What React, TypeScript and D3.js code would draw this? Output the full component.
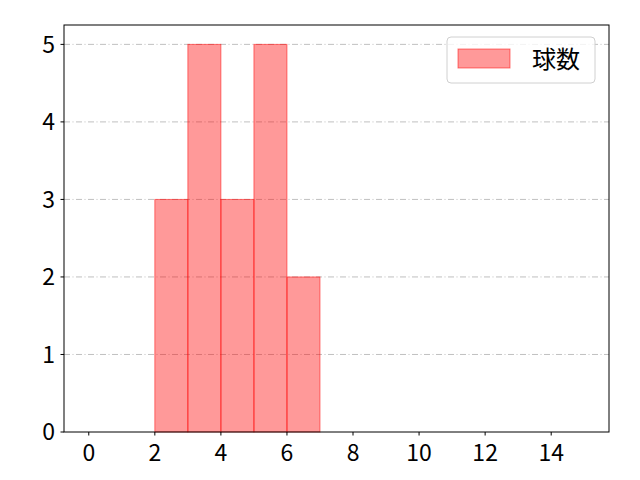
import React from 'react';
import * as d3 from 'd3';

// histogram bins (lower edges) and counts
const binEdges = [0, 1, 2, 3, 4, 5, 6, 7, 8, 9, 10, 11, 12, 13, 14, 15];
const counts = [0, 0, 3, 5, 3, 5, 2, 0, 0, 0, 0, 0, 0, 0, 0];
const xTicks = [0, 2, 4, 6, 8, 10, 12, 14];
const yTicks = [0, 1, 2, 3, 4, 5];
const seriesName = '球数';

const W = 640;
const H = 480;
const m = { left: 64, right: 31, top: 25, bottom: 48 };
const font = "'Noto Sans CJK JP', sans-serif";

const App: React.FC = () => {
  const x = d3.scaleLinear().domain([-0.75, 15.75]).range([m.left, W - m.right]);
  const y = d3.scaleLinear().domain([0, 5.25]).range([H - m.bottom, m.top]);
  const bins = counts.map((c, i) => ({ x0: binEdges[i], x1: binEdges[i + 1], c }));

  return (
    <svg width={W} height={H} style={{ display: 'block', margin: -8 }}>
      <rect width={W} height={H} fill="#fff" />
      {yTicks.slice(1).map(t => (
        <line key={t} x1={m.left} x2={W - m.right} y1={y(t)} y2={y(t)}
          stroke="#b0b0b0" strokeWidth={0.8} strokeDasharray="6,2.5,1,2.5" />
      ))}
      {bins.map((b, i) => (
        <rect key={i} x={x(b.x0)} y={y(b.c)} width={x(b.x1) - x(b.x0)} height={y(0) - y(b.c)}
          fill="red" fillOpacity={0.4} stroke="red" strokeOpacity={b.c > 0 ? 0.5 : 0.15} strokeWidth={1} />
      ))}
      <rect x={m.left} y={m.top} width={W - m.left - m.right} height={H - m.top - m.bottom}
        fill="none" stroke="#000" strokeWidth={1} />
      {xTicks.map(t => (
        <g key={t} transform={`translate(${x(t)},${H - m.bottom})`}>
          <line y2={3.5} stroke="#000" />
          <text y={28.5} textAnchor="middle" fontSize={23} fontFamily={font} fill="#000">{t}</text>
        </g>
      ))}
      {yTicks.map(t => (
        <g key={t} transform={`translate(${m.left},${y(t)})`}>
          <line x2={-3.5} stroke="#000" />
          <text x={-9} dy="0.36em" textAnchor="end" fontSize={23} fontFamily={font} fill="#000">{t}</text>
        </g>
      ))}
      <g transform="translate(447,37)">
        <rect width={148} height={46} rx={4} fill="#fff" fillOpacity={0.8} stroke="#d0d0d0" />
        <rect x={11} y={12} width={52} height={19} fill="red" fillOpacity={0.4} stroke="red" strokeOpacity={0.5} />
        <text x={85} y={30.5} fontSize={24} fontFamily={font} fill="#000">{seriesName}</text>
      </g>
    </svg>
  );
};

export default App;
